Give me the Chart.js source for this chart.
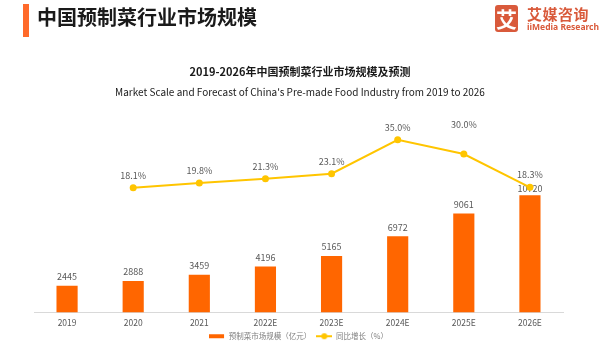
<!DOCTYPE html>
<html>
<head>
<meta charset="utf-8">
<script src="https://cdn.jsdelivr.net/npm/chart.js@4"></script>
<style>
  html,body{margin:0;padding:0;background:#fff;}
  body{width:600px;height:350px;position:relative;overflow:hidden;font-family:"Noto Sans CJK SC","Noto Sans",sans-serif;}
  #wrap{position:absolute;left:0;top:0;width:600px;height:350px;}
  .bar{position:absolute;left:23px;top:4px;width:6px;height:33px;background:#FF6A2A;}
  .head{position:absolute;left:37px;top:3px;font-size:20px;font-weight:bold;color:#1a1a1a;line-height:28px;}
  .logo{position:absolute;left:495px;top:5px;width:23px;height:27px;background:#D95A3B;border-radius:3px;color:#fff;font-weight:bold;font-size:21px;line-height:27px;text-align:center;}
  .logo1{position:absolute;left:527px;top:5px;font-size:15px;font-weight:bold;color:#D95A3B;line-height:18px;letter-spacing:0.5px;}
  .logo2{position:absolute;left:527px;top:21px;font-size:8.5px;font-weight:bold;color:#D95A3B;line-height:12px;font-family:"Noto Sans",sans-serif;}
  .t1{position:absolute;left:0;width:600px;top:63px;text-align:center;font-size:11px;font-weight:bold;color:#1a1a1a;line-height:16px;}
  .t2{position:absolute;left:0;width:600px;top:84px;text-align:center;font-size:10px;color:#1a1a1a;line-height:16px;}
</style>
</head>
<body>
<div id="wrap"><canvas id="c" width="600" height="350"></canvas></div>
<div class="bar"></div>
<div class="head">中国预制菜行业市场规模</div>
<div class="logo">艾</div>
<div class="logo1">艾媒咨询</div>
<div class="logo2">iiMedia Research</div>
<div class="t1">2019-2026年中国预制菜行业市场规模及预测</div>
<div class="t2">Market Scale and Forecast of China's Pre-made Food Industry from 2019 to 2026</div>
<script>
const categories = ["2019","2020","2021","2022E","2023E","2024E","2025E","2026E"];
const marketScale = [2445, 2888, 3459, 4196, 5165, 6972, 9061, 10720];
const growthRate = [null, 18.1, 19.8, 21.3, 23.1, 35.0, 30.0, 18.3];
const barLabel = "预制菜市场规模（亿元）";
const lineLabel = "同比增长（%）";

const BAR_COLOR = "#FF6600";
const LINE_COLOR = "#FFC500";
const TEXT_COLOR = "#595959";
const FONT = '"Noto Sans CJK SC", "Noto Sans", sans-serif';

function makeSwatch(kind){
  const cv = document.createElement('canvas');
  cv.width = 16; cv.height = 8;
  const g = cv.getContext('2d');
  if(kind === 'bar'){
    g.fillStyle = BAR_COLOR;
    g.fillRect(0, 2, 15, 4);
  } else {
    g.strokeStyle = LINE_COLOR; g.lineWidth = 2;
    g.beginPath(); g.moveTo(0,4); g.lineTo(16,4); g.stroke();
    g.fillStyle = LINE_COLOR;
    g.beginPath(); g.arc(8,4,3,0,Math.PI*2); g.fill();
  }
  return cv;
}
const swatchBar = makeSwatch('bar');
const swatchLine = makeSwatch('line');

const labelsPlugin = {
  id: 'valueLabels',
  afterDatasetDraw(chart, args){
    const ctx = chart.ctx;
    const ds = chart.data.datasets[args.index];
    const meta = args.meta;
    ctx.save();
    ctx.fillStyle = TEXT_COLOR;
    ctx.font = '9px ' + FONT;
    ctx.textAlign = 'center';
    ctx.textBaseline = 'middle';
    if (ds.type === 'bar') {
      meta.data.forEach((el, i) => {
        const v = ds.data[i];
        if (v == null) return;
        const off = i === ds.data.length - 1 ? 7 : 9;
        ctx.fillText(String(v), el.x, el.y - off);
      });
    }
    ctx.restore();
  },
  afterDatasetsDraw(chart){
    const ctx = chart.ctx;
    const idx = chart.data.datasets.findIndex(d => d.type === 'line');
    const ds = chart.data.datasets[idx];
    const meta = chart.getDatasetMeta(idx);
    ctx.save();
    ctx.fillStyle = TEXT_COLOR;
    ctx.font = '9px ' + FONT;
    ctx.textAlign = 'center';
    ctx.textBaseline = 'middle';
    meta.data.forEach((el, i) => {
      const v = ds.data[i];
      if (v == null) return;
      const off = (i === 6) ? 29 : 12.5;
      ctx.fillText(v.toFixed(1) + '%', el.x, el.y - off);
    });
    ctx.restore();
  }
};

new Chart(document.getElementById('c'), {
  data: {
    labels: categories,
    datasets: [
      {
        type: 'bar',
        label: barLabel,
        data: marketScale,
        backgroundColor: BAR_COLOR,
        borderWidth: 0,
        barPercentage: 0.32,
        categoryPercentage: 1,
        yAxisID: 'y',
        order: 2
      },
      {
        type: 'line',
        label: lineLabel,
        data: growthRate,
        borderColor: LINE_COLOR,
        backgroundColor: LINE_COLOR,
        borderWidth: 2,
        pointRadius: 3.5,
        pointBorderWidth: 0,
        pointBackgroundColor: LINE_COLOR,
        tension: 0,
        yAxisID: 'y1',
        order: 1
      }
    ]
  },
  options: {
    responsive: false,
    animation: false,
    devicePixelRatio: 1,
    layout: { padding: { top: 120, left: 34, right: 37, bottom: 0 } },
    plugins: {
      tooltip: { enabled: false },
      title: { display: false },
      legend: {
        display: true,
        position: 'bottom',
        labels: {
          usePointStyle: true,
          pointStyleWidth: 16,
          padding: 5,
          color: '#808080',
          font: { size: 7.5, family: FONT },
          generateLabels(chart){
            return [
              { text: barLabel, pointStyle: swatchBar, fontColor: '#808080', datasetIndex: 0, lineWidth: 0, hidden: false },
              { text: lineLabel, pointStyle: swatchLine, fontColor: '#808080', datasetIndex: 1, lineWidth: 0, hidden: false }
            ];
          }
        }
      }
    },
    scales: {
      x: {
        grid: { display: false, drawTicks: false },
        border: { display: true, color: '#D9D9D9', width: 1 },
        ticks: { color: TEXT_COLOR, font: { size: 8.5, family: FONT }, padding: 5, maxRotation: 0 },
        afterFit(s){ s.height = 15; }
      },
      y: {
        display: false,
        min: 0,
        max: 17600
      },
      y1: {
        display: false,
        position: 'right',
        min: -25.8,
        max: 42
      }
    }
  },
  plugins: [labelsPlugin]
});
</script>
</body>
</html>
